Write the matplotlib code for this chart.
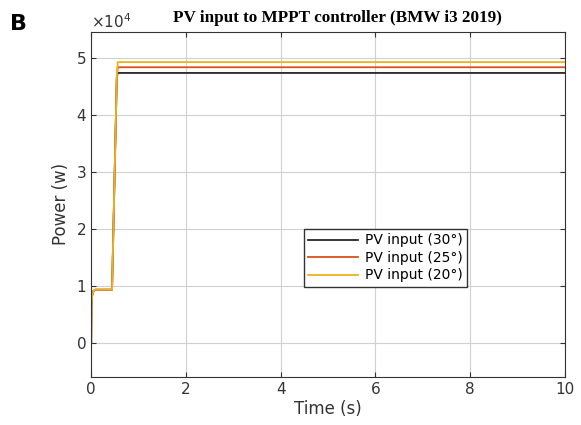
import matplotlib.pyplot as plt
from matplotlib.ticker import ScalarFormatter

# time (s) and PV input power (W)
t = [0, 0.005, 0.02, 0.05, 0.09, 0.44, 0.54, 0.56, 10]
p30 = [0, 6500, 8300, 9100, 9300, 9300, 46500, 47300, 47300]
p25 = [0, 6500, 8300, 9100, 9300, 9300, 46500, 48300, 48300]
p20 = [0, 6500, 8300, 9100, 9300, 9300, 46500, 49200, 49200]
labels = ["PV input (30°)", "PV input (25°)", "PV input (20°)"]
colors = ["#262626", "#D95319", "#EDB120"]

fig = plt.figure(figsize=(5.81, 4.25), dpi=100)
ax = fig.add_axes([0.157, 0.113, 0.815, 0.812])

for p, lab, c in zip([p30, p25, p20], labels, colors):
    ax.plot(t, p, color=c, lw=1.3, label=lab)

ax.set_xlim(0, 10)
ax.set_ylim(-6000, 54500)
ax.set_xticks([0, 2, 4, 6, 8, 10])
ax.set_yticks([0, 10000, 20000, 30000, 40000, 50000])
fmt = ScalarFormatter(useMathText=True)
fmt.set_powerlimits((0, 0))
ax.yaxis.set_major_formatter(fmt)
ax.yaxis.get_offset_text().set_fontsize(11)
ax.yaxis.get_offset_text().set_color("#333333")
ax.grid(True, color="#d0d0d0", lw=0.8)
ax.tick_params(direction="in", top=True, right=True, labelsize=11, colors="#333333")
for s in ax.spines.values():
    s.set_color("#333333")

ax.set_xlabel("Time (s)", fontsize=12, color="#333333", labelpad=2)
ax.set_ylabel("Power (w)", fontsize=12, color="#333333")
ax.set_title("PV input to MPPT controller (BMW i3 2019)", fontsize=12.3,
             fontweight="bold", family="Liberation Serif", pad=7, x=0.52)
fig.text(0.017, 0.93, "B", fontsize=16, fontweight="bold")

ax.legend(loc="lower left", bbox_to_anchor=(0.45, 0.262), fontsize=10,
          frameon=True, fancybox=False, edgecolor="#333333", framealpha=1,
          borderpad=0.3, labelspacing=0.25, handlelength=3.6, handletextpad=0.5,
          borderaxespad=0)

fig.savefig("out.png", dpi=100)
